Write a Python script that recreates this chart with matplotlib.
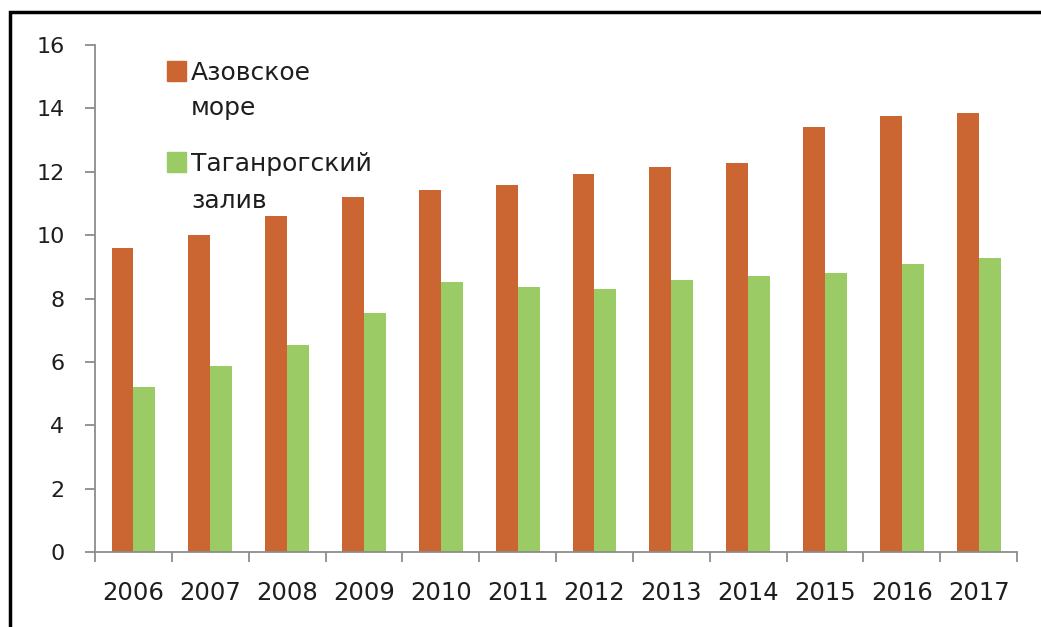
import numpy as np
import matplotlib
matplotlib.use("Agg")
import matplotlib.pyplot as plt
from matplotlib.patches import Rectangle

# years and catch values for the two water areas
years = ["2006", "2007", "2008", "2009", "2010", "2011",
         "2012", "2013", "2014", "2015", "2016", "2017"]
azov_sea = [9.58, 10.02, 10.61, 11.19, 11.42, 11.57,
            11.92, 12.15, 12.28, 13.40, 13.76, 13.84]
taganrog_bay = [5.22, 5.87, 6.53, 7.54, 8.51, 8.36,
                8.29, 8.58, 8.72, 8.79, 9.08, 9.29]
legend_labels = ["Азовское\nморе", "Таганрогский\nзалив"]

orange = "#CB6532"
green = "#9BCB65"
txt = "#1E1E1E"
axis_grey = "#8C8C8C"

plt.rcParams["font.family"] = ["DejaVu Sans"]

fig = plt.figure(figsize=(10.41, 6.27), dpi=100)
ax = fig.add_axes([0.0913, 0.1196, 0.8857, 0.8086])

x = np.arange(len(years))
w = 0.285
ax.bar(x - w / 2, azov_sea, width=w, color=orange, linewidth=0)
ax.bar(x + w / 2, taganrog_bay, width=w, color=green, linewidth=0)

ax.set_xlim(-0.5, len(years) - 0.5)
ax.set_ylim(0, 16)
ax.set_yticks(range(0, 17, 2))

# year labels centred under groups, tick marks between groups
ax.set_xticks(x)
ax.set_xticklabels(years)
ax.set_xticks(np.arange(-0.5, len(years)), minor=True)
ax.tick_params(axis="x", which="major", length=0, pad=21,
               labelsize=17.5, labelcolor=txt)
ax.tick_params(axis="x", which="minor", length=7, width=1.3,
               color=axis_grey, direction="out")
ax.tick_params(axis="y", length=7, width=1.3, color=axis_grey,
               pad=15, labelsize=16, labelcolor=txt)

for side in ["top", "right"]:
    ax.spines[side].set_visible(False)
for side in ["left", "bottom"]:
    ax.spines[side].set_color(axis_grey)
    ax.spines[side].set_linewidth(1.3)

# legend: swatch next to the first line, label lines stacked below
legend_colors = [orange, green]
swatch_y = [0.929, 0.749]
line_y = [[0.931, 0.861], [0.7515, 0.6785]]
for lab, col, sy, ly in zip(legend_labels, legend_colors, swatch_y, line_y):
    ax.add_patch(Rectangle((0.078, sy), 0.021, 0.0394,
                           transform=ax.transAxes, color=col,
                           clip_on=False))
    for line, yy in zip(lab.split("\n"), ly):
        ax.text(0.104, yy, line, transform=ax.transAxes,
                fontsize=18, color=txt, va="baseline", ha="left")

# outer frame of the chart area
frame = Rectangle((0.0095, -0.05), 1.2, 1.031, transform=fig.transFigure,
                  fill=False, edgecolor="black", linewidth=2.5)
fig.patches.append(frame)

fig.savefig("out.png", dpi=100, facecolor="white")
